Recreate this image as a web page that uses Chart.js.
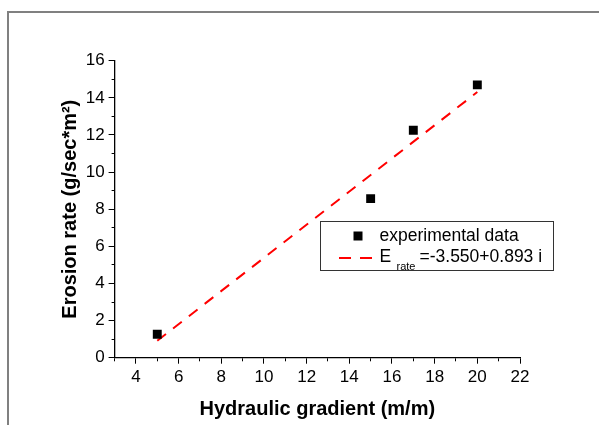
<!DOCTYPE html>
<html>
<head>
<meta charset="utf-8">
<script src="https://cdn.jsdelivr.net/npm/chart.js@4"></script>
<style>
  body { margin: 0; background: #fff; overflow: hidden; }
  #wrap { position: relative; width: 599px; height: 425px; }
  #frame { position: absolute; left: 7px; top: 11px; width: 620px; height: 450px;
           border-left: 2px solid #808080; border-top: 2px solid #808080; }
  #grafico { position: absolute; left: 0; top: 0; }
</style>
</head>
<body>
<div id="wrap">
  <div id="frame"></div>
  <canvas id="grafico" width="599" height="425"></canvas>
</div>
<script>
var gradient = [5, 15, 17, 20];
var erosion = [1.26, 8.57, 12.25, 14.7];
var fitGradient = [5, 20];
var fitErosion = [0.915, 14.31];
var pointsLabel = "experimental data";
var fitLabel = ["E", "rate", "=-3.550+0.893 i"];
var xTitle = "Hydraulic gradient (m/m)";
var yTitle = "Erosion rate (g/sec*m\u00b2)";

var fonte = '"Liberation Sans", Arial, Helvetica, sans-serif';

function pares(xs, ys) {
    var out = [];
    for (var k = 0; k < xs.length; k++) {
        out.push({x: xs[k], y: ys[k]});
    }
    return out;
}

// ticks curtos nos valores impares (minor ticks)
function menor(ctx) {
    return ctx.tick && ctx.tick.value % 2 !== 0;
}

// legenda com subscrito, desenhada a mao
var legendaBox = {
    id: 'legendaBox',
    afterDraw: function(chart) {
        var c = chart.ctx;
        c.save();
        c.fillStyle = '#fff';
        c.fillRect(320.5, 221.5, 233, 49);
        c.strokeStyle = '#333';
        c.lineWidth = 1;
        c.strokeRect(320.5, 221.5, 233, 49);

        c.fillStyle = '#000';
        c.fillRect(353.5, 231.5, 9, 9);
        c.font = '17.5px ' + fonte;
        c.textBaseline = 'middle';
        c.fillText(pointsLabel, 379.5, 236);

        c.strokeStyle = '#ff0000';
        c.lineWidth = 2;
        c.setLineDash([12, 9]);
        c.beginPath();
        c.moveTo(339, 258);
        c.lineTo(372, 258);
        c.stroke();
        c.setLineDash([]);

        c.fillStyle = '#000';
        c.fillText(fitLabel[0], 379.5, 257.5);
        c.font = '11px ' + fonte;
        c.textBaseline = 'alphabetic';
        c.fillText(fitLabel[1], 396.5, 270);
        c.font = '17.5px ' + fonte;
        c.textBaseline = 'middle';
        c.fillText(fitLabel[2], 419.5, 257.5);
        c.restore();
    }
};

var ctx = document.getElementById("grafico").getContext('2d');
var myChart = new Chart(ctx, {
    type: 'scatter',
    data: {
        datasets: [
            {
                data: pares(gradient, erosion),
                label: pointsLabel,
                pointStyle: 'rect',
                pointRadius: 6.3,
                pointHoverRadius: 6.3,
                backgroundColor: "#000000",
                borderColor: "#000000",
                borderWidth: 0,
                showLine: false
            },
            {
                data: pares(fitGradient, fitErosion),
                label: fitLabel.join(' '),
                borderColor: "#ff0000",
                borderWidth: 2,
                borderDash: [11, 9],
                pointRadius: 0,
                showLine: true,
                fill: false
            }
        ]
    },
    options: {
        responsive: false,
        animation: false,
        devicePixelRatio: 1,
        layout: { padding: { left: 58.7, top: 60.7, right: 79, bottom: 4 } },
        plugins: {
            legend: { display: false },
            tooltip: { enabled: false }
        },
        scales: {
            x: {
                type: 'linear',
                min: 3,
                max: 22,
                afterFit: function(s) { s.height = 63.3; },
                ticks: {
                    stepSize: 1,
                    autoSkip: false,
                    maxRotation: 0,
                    padding: 3,
                    color: '#000',
                    font: { family: fonte, size: 17 },
                    callback: function(v) { return v % 2 === 0 ? v : ''; }
                },
                grid: {
                    drawOnChartArea: false,
                    tickLength: 6,
                    tickColor: '#000',
                    tickWidth: 1,
                    tickBorderDash: function(c) { return menor(c) ? [3, 20] : []; },
                    tickBorderDashOffset: 0
                },
                border: { color: '#000', width: 1.3 },
                title: {
                    display: true,
                    text: xTitle,
                    color: '#000',
                    padding: 0,
                    font: { family: fonte, size: 20, weight: 'bold' }
                }
            },
            y: {
                min: 0,
                max: 16,
                afterFit: function(s) { s.width = 55.9; },
                ticks: {
                    stepSize: 1,
                    autoSkip: false,
                    padding: 4,
                    color: '#000',
                    font: { family: fonte, size: 17 },
                    callback: function(v) { return v % 2 === 0 ? v : ''; }
                },
                grid: {
                    drawOnChartArea: false,
                    tickLength: 6,
                    tickColor: '#000',
                    tickWidth: 1,
                    tickBorderDash: function(c) { return menor(c) ? [3, 3] : []; },
                    tickBorderDashOffset: function(c) { return menor(c) ? 3 : 0; }
                },
                border: { color: '#000', width: 1.3 },
                title: {
                    display: true,
                    text: yTitle,
                    color: '#000',
                    padding: 0,
                    font: { family: fonte, size: 20, weight: 'bold' }
                }
            }
        }
    },
    plugins: [legendaBox]
});
</script>
</body>
</html>
